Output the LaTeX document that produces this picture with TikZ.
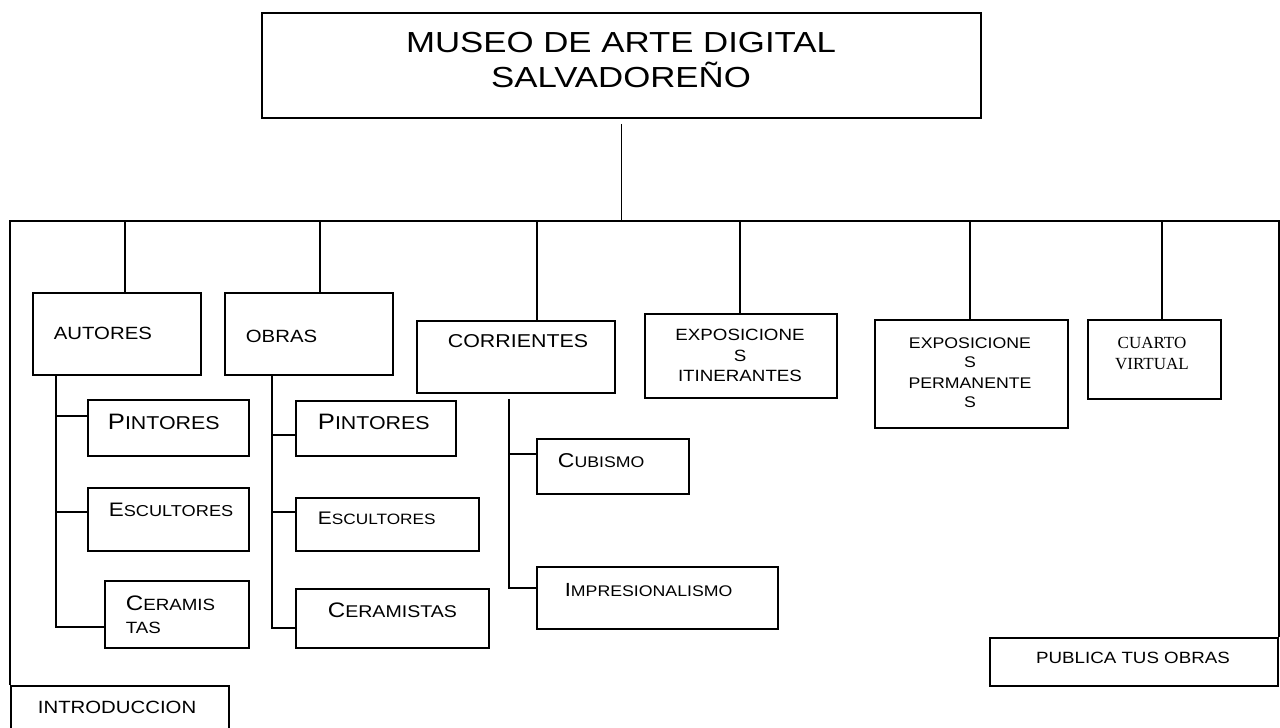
\documentclass[tikz,border=0pt]{standalone}
\usepackage{fontspec}
\newfontfamily\cop[FakeStretch=1.15]{Liberation Sans}
\newfontfamily\copt[FakeStretch=1.2]{Liberation Sans}
\newfontfamily\tms{Liberation Serif}
\newcommand\mysc[4]{{\fontsize{#1}{#1}\selectfont #2}{\fontsize{#3}{#3}\selectfont #4}}
\newcommand\fs[1]{\fontsize{#1}{#1}\selectfont}
\begin{document}
\begin{tikzpicture}[x=1pt,y=-1pt,line width=1.8pt,
  box/.style={draw,inner sep=0pt,anchor=north west},
  txt/.style={font=\cop,inner sep=0pt,anchor=base west},
  ctxt/.style={font=\cop,inner sep=0pt,anchor=base}]
\useasboundingbox (0,0) rectangle (1280,728);
% boxes
\node[box,minimum width=719pt,minimum height=105pt] (title) at (261,12) {};
\node[box,minimum width=168pt,minimum height=82pt] (autores) at (32,292) {};
\node[box,minimum width=168pt,minimum height=82pt] (obras) at (224,292) {};
\node[box,minimum width=198pt,minimum height=72pt] (corr) at (416,320) {};
\node[box,minimum width=192pt,minimum height=84pt] (expi) at (644,313) {};
\node[box,minimum width=193pt,minimum height=108pt] (expp) at (874,319) {};
\node[box,minimum width=133pt,minimum height=79pt] (cuarto) at (1087,319) {};
\node[box,minimum width=161pt,minimum height=56pt] (aP) at (87,399) {};
\node[box,minimum width=161pt,minimum height=63pt] (aE) at (87,487) {};
\node[box,minimum width=144pt,minimum height=67pt] (aC) at (104,580) {};
\node[box,minimum width=160pt,minimum height=55pt] (oP) at (295,400) {};
\node[box,minimum width=183pt,minimum height=53pt] (oE) at (295,497) {};
\node[box,minimum width=193pt,minimum height=59pt] (oC) at (295,588) {};
\node[box,minimum width=152pt,minimum height=55pt] (cub) at (536,438) {};
\node[box,minimum width=241pt,minimum height=62pt] (imp) at (536,566) {};
\node[box,minimum width=288pt,minimum height=48pt] (pub) at (989,637) {};
\node[box,minimum width=218pt,minimum height=60pt] (intro) at (10,685) {};
% texts
\node[ctxt,font=\copt\fs{29}] (t1) at (621,52) {MUSEO DE ARTE DIGITAL};
\node[ctxt,font=\copt\fs{29}] (t2) at (621,87) {SALVADOREÑO};
\node[txt,font=\cop\fs{17.7}] (ta) at (53,339) {AUTORES};
\node[txt,font=\cop\fs{17.7}] (to) at (245,342) {OBRAS};
\node[txt,font=\cop\fs{18.6}] (tc) at (447,347) {CORRIENTES};
\node[ctxt,font=\cop\fs{16.3}] (ei1) at (740,340) {EXPOSICIONE};
\node[ctxt,font=\cop\fs{16.3}] (ei2) at (740,361) {S};
\node[ctxt,font=\cop\fs{16.3}] (ei3) at (740,381) {ITINERANTES};
\node[ctxt,font=\cop\fs{15.4}] (ep1) at (970,348) {EXPOSICIONE};
\node[ctxt,font=\cop\fs{15.4}] (ep2) at (970,367) {S};
\node[ctxt,font=\cop\fs{15.4}] (ep3) at (970,388) {PERMANENTE};
\node[ctxt,font=\cop\fs{15.4}] (ep4) at (970,407) {S};
\node[ctxt,font=\tms\fs{17}] (cv1) at (1152,348) {CUARTO};
\node[ctxt,font=\tms\fs{17}] (cv2) at (1152,369) {VIRTUAL};
\node[txt] (taP) at (107,429) {\mysc{22.3}{P}{18.6}{INTORES}};
\node[txt] (taE) at (108,516) {\mysc{19.5}{E}{15.8}{SCULTORES}};
\node[txt] (taC1) at (125,610) {\mysc{21}{C}{16.3}{ERAMIS}};
\node[txt] (taC2) at (125,633) {\mysc{16.3}{}{16.3}{TAS}};
\node[txt] (toP) at (317,429) {\mysc{22.3}{P}{18.6}{INTORES}};
\node[txt] (toE) at (317,524) {\mysc{18.2}{E}{15}{SCULTORES}};
\node[txt] (toC) at (327,617) {\mysc{21}{C}{17}{ERAMISTAS}};
\node[txt] (tcu) at (557,467) {\mysc{20}{C}{15.4}{UBISMO}};
\node[txt] (tim) at (564,596) {\mysc{19}{I}{15.4}{MPRESIONALISMO}};
\node[ctxt,font=\cop\fs{16.3}] (tpub) at (1133,663) {PUBLICA TUS OBRAS};
\node[txt,font=\cop\fs{17.7}] (tint) at (37,713) {INTRODUCCION};
% frame
\coordinate (top) at (0,221);
\draw (intro.north west) -- (intro.north west |- top) -- (pub.north east |- top) -- (pub.north east);
\draw ([yshift=-5pt]title.south) -- (title.south |- top);
% drops
\draw (125,221) -- (125,221 |- autores.north);
\draw (320,221) -- (320,221 |- obras.north);
\draw (537,221) -- (537,221 |- corr.north);
\draw (740,221) -- (740,221 |- expi.north);
\draw (970,221) -- (970,221 |- expp.north);
\draw (1162,221) -- (1162,221 |- cuarto.north);
% autores branch
\draw (autores.south -| 56,0) |- (aC.west |- 0,627);
\draw (56,416) -- (aP.west |- 0,416);
\draw (56,512) -- (aE.west |- 0,512);
% obras branch
\draw (obras.south -| 272,0) |- (oC.west |- 0,628);
\draw (272,435) -- (oP.west |- 0,435);
\draw (272,512) -- (oE.west |- 0,512);
% corrientes branch
\draw ([yshift=-5pt]corr.south -| 509,0) |- (imp.west |- 0,588);
\draw (509,454) -- (cub.west |- 0,454);
\end{tikzpicture}
\end{document}
